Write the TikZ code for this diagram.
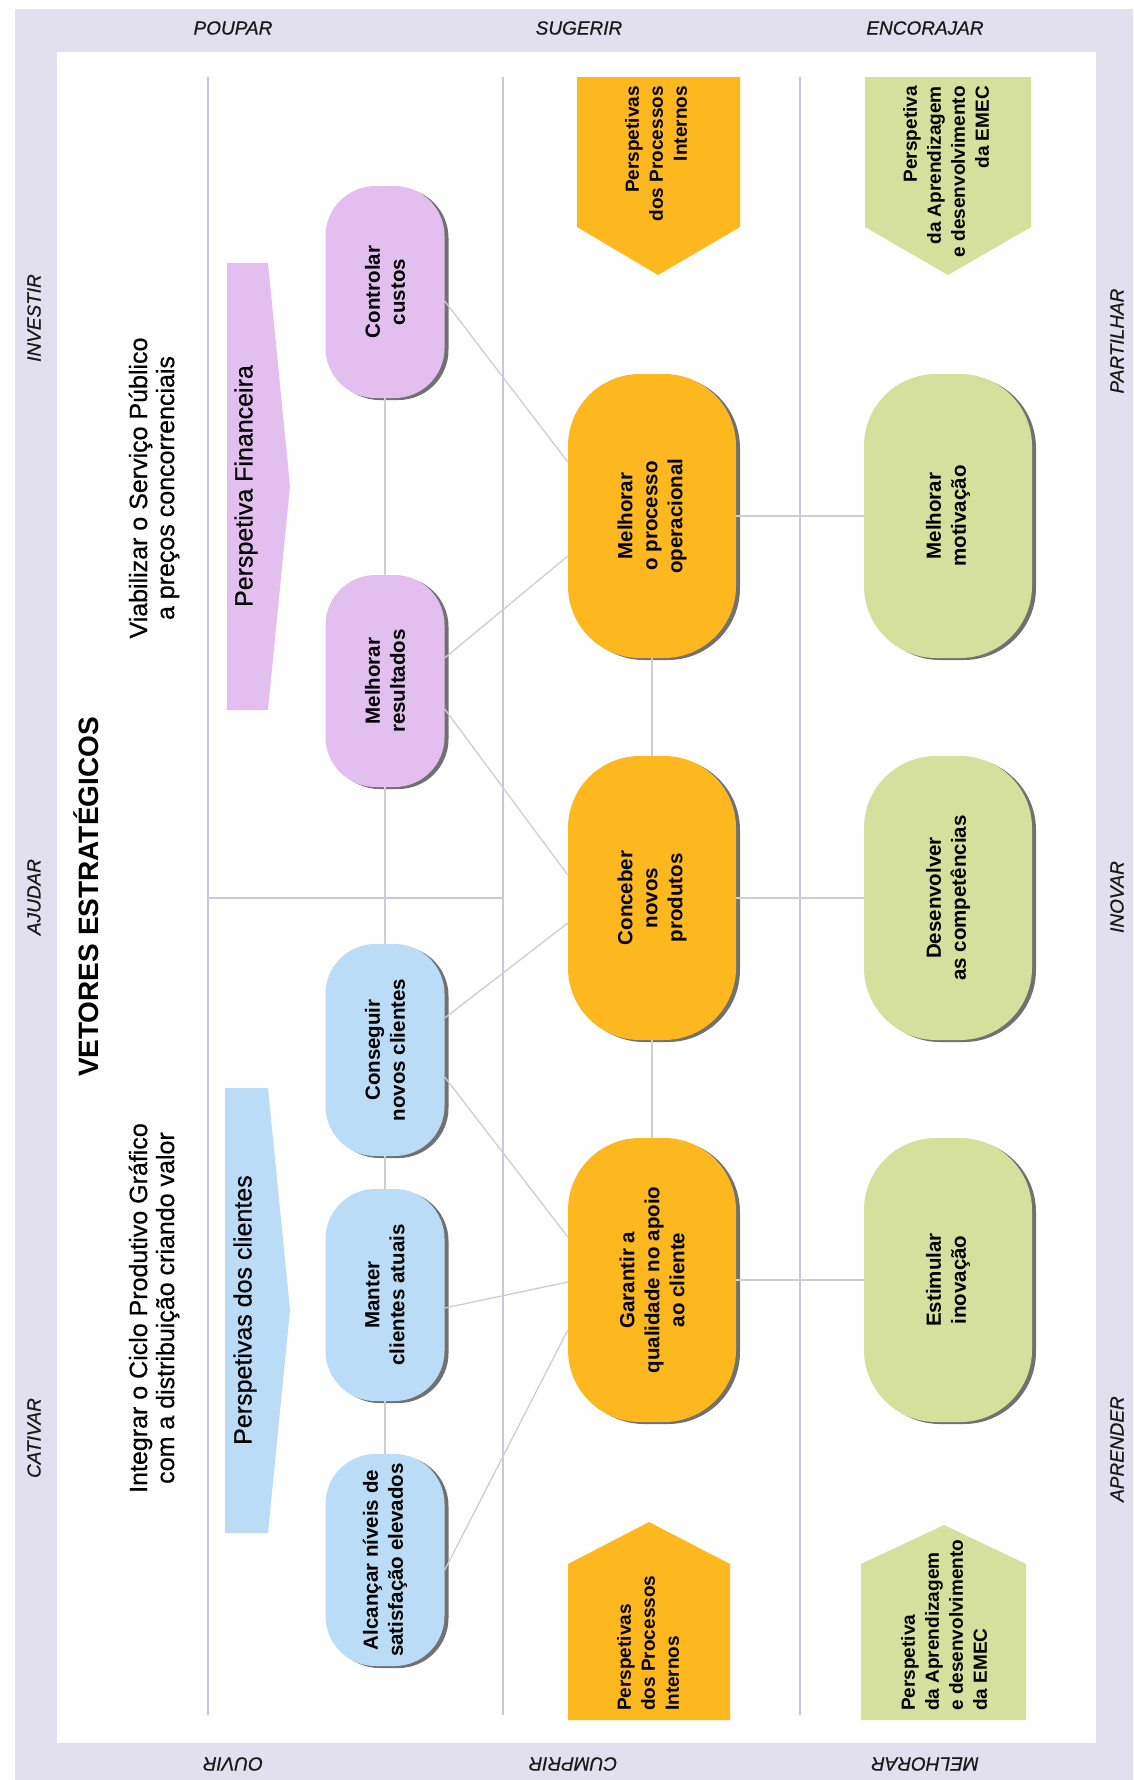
\documentclass[tikz,border=0pt]{standalone}
\usepackage{fontspec}
\setmainfont{Liberation Sans}
\newfontfamily\medfont[FakeBold=0.6]{Liberation Sans}
\usetikzlibrary{shadows,calc}
\definecolor{framec}{HTML}{E2E0EE}
\definecolor{gridc}{HTML}{C9C7DB}
\definecolor{connc}{HTML}{CDCDD8}
\definecolor{purp}{HTML}{E3BFF0}
\definecolor{blu}{HTML}{BBDCF6}
\definecolor{oran}{HTML}{FDB820}
\definecolor{gree}{HTML}{D4E09C}
\tikzset{
  shad/.style={drop shadow={shadow xshift=4pt, shadow yshift=-2pt, fill=black!65, opacity=0.85}},
  sbox/.style={shad, minimum width=119pt, minimum height=212pt, rounded corners=50pt, inner sep=0pt},
  bbox/.style={shad, minimum width=168pt, minimum height=284pt, rounded corners=72pt, inner sep=0pt},
  ntext/.style={rotate=90, font=\bfseries\fontsize{20.5}{25}\selectfont, align=center, inner sep=0pt},
  chtext/.style={rotate=90, font=\bfseries\fontsize{19}{24}\selectfont, inner sep=0pt},
  gridline/.style={draw=gridc, line width=2pt},
  conn/.style={draw=connc, line width=1.3pt},
  flabel/.style={font=\medfont\itshape\fontsize{19}{22}\selectfont, text=black!90, inner sep=0pt},
  bigtext/.style={rotate=90, font=\medfont\fontsize{25}{27}\selectfont, align=center, inner sep=0pt},
}
\begin{document}
\begin{tikzpicture}[x=1pt, y=-1pt]
\useasboundingbox (0,0) rectangle (1133,1780);
% frame
\fill[framec] (15,9) rectangle (1133,1780);
\fill[white] (57,52) rectangle (1096,1743);
% frame labels
\node[flabel] (lpoupar) at (233,28) {POUPAR};
\node[flabel] (lsugerir) at (579,28) {SUGERIR};
\node[flabel] (lencorajar) at (925,28) {ENCORAJAR};
\node[flabel, rotate=180] (louvir) at (233,1764) {OUVIR};
\node[flabel, rotate=180] (lcumprir) at (573,1764) {CUMPRIR};
\node[flabel, rotate=180] (lmelhorar) at (925,1764) {MELHORAR};
\node[flabel, rotate=90] (linvestir) at (34,318) {INVESTIR};
\node[flabel, rotate=90] (lajudar) at (34,897) {AJUDAR};
\node[flabel, rotate=90] (lcativar) at (34,1438) {CATIVAR};
\node[flabel, rotate=90] (lpartilhar) at (1117,341) {PARTILHAR};
\node[flabel, rotate=90] (linovar) at (1117,897) {INOVAR};
\node[flabel, rotate=90] (laprender) at (1117,1449) {APRENDER};
% grid
\draw[gridline] (208,77) -- (208,1715);
\draw[gridline] (503,77) -- (503,1715);
\draw[gridline] (800,77) -- (800,1715);
\draw[gridline] (208,898) -- (503,898);
% titles
\node[rotate=90, font=\bfseries\fontsize{28}{30}\selectfont, inner sep=0pt] (title) at (86,897) {VETORES ESTRATÉGICOS};
\node[bigtext] (viab) at (154,488) {Viabilizar o Serviço Público\\a preços concorrenciais};
\node[bigtext] (integ) at (154,1308) {Integrar o Ciclo Produtivo Gráfico\\com a distribuição criando valor};
% perspective arrows
\fill[purp] (227,263) -- (268,263) -- (290,486) -- (268,710) -- (227,710) -- cycle;
\node[rotate=90, font=\medfont\fontsize{25}{27}\selectfont, inner sep=0pt] (pfin) at (246,486) {Perspetiva Financeira};
\fill[blu] (225,1088) -- (268,1088) -- (290,1310) -- (268,1533) -- (225,1533) -- cycle;
\node[rotate=90, font=\medfont\fontsize{25}{27}\selectfont, inner sep=0pt] (pcli) at (245,1310) {Perspetivas dos clientes};
% chevrons
\fill[oran] (577,77) -- (740,77) -- (740,227) -- (658,275) -- (577,227) -- cycle;
\node[chtext, anchor=east, align=right] (chot) at (656,86) {Perspetivas\\dos Processos\\Internos};
\fill[gree] (865,77) -- (1031,77) -- (1031,227) -- (948,275) -- (865,227) -- cycle;
\node[chtext, anchor=east, align=right] (chgt) at (946,86) {Perspetiva\\da Aprendizagem\\e desenvolvimento\\da EMEC};
\fill[oran] (568,1720) -- (730,1720) -- (730,1564) -- (649,1522) -- (568,1564) -- cycle;
\node[chtext, anchor=west, align=left] (chob) at (648,1711) {Perspetivas\\dos Processos\\Internos};
\fill[gree] (861,1720) -- (1026,1720) -- (1026,1564) -- (944,1525) -- (861,1564) -- cycle;
\node[chtext, anchor=west, align=left] (chgb) at (944,1711) {Perspetiva\\da Aprendizagem\\e desenvolvimento\\da EMEC};
% objective nodes
\node[sbox, fill=purp] (cc) at (385,292) {};
\node[sbox, fill=purp] (mr) at (385,681) {};
\node[sbox, fill=blu] (cn) at (385,1050) {};
\node[sbox, fill=blu] (mc) at (385,1295) {};
\node[sbox, fill=blu] (an) at (385,1560) {};
\node[bbox, fill=oran] (mp) at (652,516) {};
\node[bbox, fill=oran] (cp) at (652,898) {};
\node[bbox, fill=oran] (gq) at (652,1280) {};
\node[bbox, fill=gree] (mm) at (948,516) {};
\node[bbox, fill=gree] (dc) at (948,898) {};
\node[bbox, fill=gree] (ei) at (948,1280) {};
% texts
\node[ntext] (cct) at (cc) {Controlar\\custos};
\node[ntext] (mrt) at (mr) {Melhorar\\resultados};
\node[ntext] (cnt) at (cn) {Conseguir\\novos clientes};
\node[ntext] (mct) at (mc) {Manter\\clientes atuais};
\node[ntext] (ant) at (an) {Alcançar níveis de\\satisfação elevados};
\node[ntext] (mpt) at (mp) {Melhorar\\o processo\\operacional};
\node[ntext] (cpt) at (cp) {Conceber\\novos\\produtos};
\node[ntext] (gqt) at (gq) {Garantir a\\qualidade no apoio\\ao cliente};
\node[ntext] (mmt) at (mm) {Melhorar\\motivação};
\node[ntext] (dct) at (dc) {Desenvolver\\as competências};
\node[ntext] (eit) at (ei) {Estimular\\inovação};
% connectors
\draw[conn] (cc.south) -- (mr.north);
\draw[conn] (mr.south) -- (cn.north);
\draw[conn] (cn.south) -- (mc.north);
\draw[conn] (mc.south) -- (an.north);
\draw[conn] (mp.south) -- (cp.north);
\draw[conn] (cp.south) -- (gq.north);
\draw[conn] (mp.east) -- (mm.west);
\draw[conn] (cp.east) -- (dc.west);
\draw[conn] (gq.east) -- (ei.west);
\draw[conn] ($(cc.east)+(0,9)$) -- ($(mp.west)+(0,-54)$);
\draw[conn] ($(mr.east)+(0,-23)$) -- ($(mp.west)+(0,40)$);
\draw[conn] ($(mr.east)+(0,28)$) -- ($(cp.west)+(0,-23)$);
\draw[conn] ($(cn.east)+(0,-32)$) -- ($(cp.west)+(0,25)$);
\draw[conn] ($(cn.east)+(0,27)$) -- ($(gq.west)+(0,-43)$);
\draw[conn] ($(mc.east)+(0,13)$) -- ($(gq.west)+(0,2)$);
\draw[conn] ($(an.east)+(0,10)$) -- ($(gq.west)+(0,50)$);
\end{tikzpicture}
\end{document}
